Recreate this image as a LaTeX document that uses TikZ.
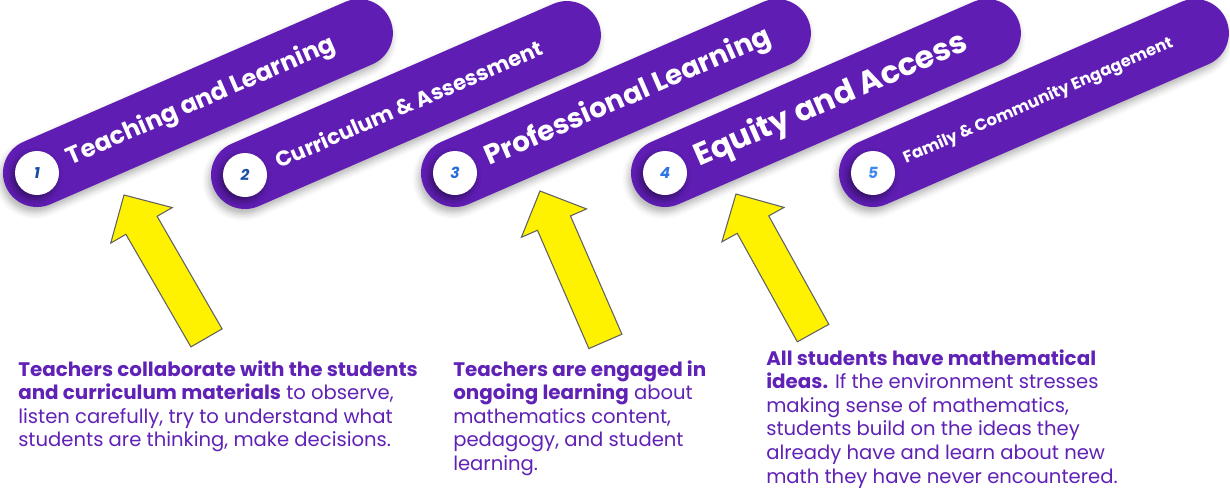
\documentclass[tikz,border=0pt]{standalone}
\usepackage{fontspec}
\usepackage{graphicx}
\setmainfont{Poppins}[BoldFeatures={FakeStretch=1.015}]
\usetikzlibrary{shadows.blur}

\definecolor{pillc}{RGB}{95,29,180}
\definecolor{txtc}{RGB}{96,33,182}
\definecolor{numA}{RGB}{22,76,160}
\definecolor{numB}{RGB}{26,80,168}
\definecolor{numC}{RGB}{40,108,220}
\definecolor{numD}{RGB}{46,116,228}
\definecolor{numE}{RGB}{60,135,240}

\tikzset{
  pillbody/.style={fill=pillc, blur shadow={shadow xshift=-1.5pt, shadow yshift=-4pt,
      shadow blur radius=5pt, shadow opacity=30}},
  numdisc/.style={circle, fill=white, minimum size=33pt, inner sep=0pt,
      font=\bfseries\itshape\fontsize{11.5}{11.5}\selectfont,
      blur shadow={shadow xshift=-2pt, shadow yshift=-3pt, shadow blur radius=5pt, shadow opacity=45}},
  pilltext/.style={anchor=west, inner sep=0pt, text=white, font=\bfseries, rotate=23.5},
  yarrow/.style={fill=yellow, draw=black!62, line width=0.8pt, line join=miter},
  bodytext/.style={anchor=base west, inner sep=0pt, text=txtc,
      font=\fontsize{14.7}{17.7}\selectfont}
}

% #1,#2 disc centre; #3 name; #4 number; #5 number colour; #6 label width (pt); #7 label
\newcommand\topicpill[7]{%
  \begin{scope}[shift={(#1,-#2)}, rotate=23.5]
    \path[pillbody] (0,-34) arc (270:90:34) -- (351,34) arc (90:-90:34) -- cycle;
    \node[numdisc, text=#5] (#3n) at (0,0) {#4};
    \node[pilltext] (#3t) at (34,0) {\resizebox{#6pt}{!}{#7}};
  \end{scope}}

% #1,#2 tip; #3 direction; #4 length
\newcommand\yellowarrow[4]{%
  \begin{scope}[shift={(#1,-#2)}, rotate=#3]
    \draw[yarrow] (0,0) -- (-35,35.5) -- (-35,18) -- (-#4,18) -- (-#4,-18)
      -- (-35,-18) -- (-35,-35.5) -- cycle;
  \end{scope}}

\begin{document}
\begin{tikzpicture}[x=0.75pt, y=0.75pt]
  \useasboundingbox (0,0) rectangle (1230,-489);

  \topicpill{37}{173}{p1}{1}{numA}{217.5}{Teaching and Learning}
  \topicpill{245}{175}{p2}{2}{numB}{216.5}{Curriculum \& Assessment}
  \topicpill{455}{173}{p3}{3}{numC}{232}{Professional Learning}
  \topicpill{665}{173}{p4}{4}{numD}{221}{Equity and Access}
  \topicpill{873}{173}{p5}{5}{numE}{219}{Family \& Community Engagement}

  \yellowarrow{124}{195}{120}{165}
  \yellowarrow{540}{191}{113.5}{164}
  \yellowarrow{736}{194}{119}{159}

  \node[bodytext] (c1) at (18,-376) {\begin{tabular}[t]{@{}l@{}}
    \textbf{Teachers collaborate with the students}\\
    \textbf{and curriculum materials} to observe,\\
    listen carefully, try to understand what\\
    students are thinking, make decisions.
  \end{tabular}};

  \node[bodytext] (c2) at (453,-376) {\begin{tabular}[t]{@{}l@{}}
    \textbf{Teachers are engaged in}\\
    \textbf{ongoing learning} about\\
    mathematics content,\\
    pedagogy, and student\\
    learning.
  \end{tabular}};

  \node[bodytext] (c3) at (766,-365) {\begin{tabular}[t]{@{}l@{}}
    \textbf{All students have mathematical}\\
    \textbf{ideas.} If the environment stresses\\
    making sense of mathematics,\\
    students build on the ideas they\\
    already have and learn about new\\
    math they have never encountered.
  \end{tabular}};
\end{tikzpicture}
\end{document}
